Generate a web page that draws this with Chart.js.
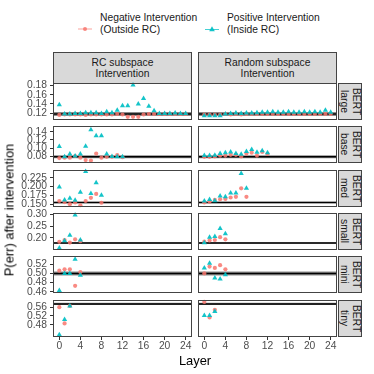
<!DOCTYPE html>
<html>
<head>
<meta charset="utf-8">
<script src="https://cdn.jsdelivr.net/npm/chart.js@4.4.1/dist/chart.umd.min.js"></script>
<style>
  body { margin: 0; background: #fff; font-family: "Liberation Sans", Arial, sans-serif; }
  #wrap { position: relative; width: 374px; height: 374px; overflow: hidden; }
  .abs { position: absolute; }
  canvas { position: absolute; }
  .strip {
    position: absolute; box-sizing: border-box;
    background: #d9d9d9; border: 1px solid #444; color: #1a1a1a;
    font-size: 10.3px; line-height: 11.5px; text-align: center;
    display: flex; align-items: center; justify-content: center;
  }
  .strip.side span { writing-mode: vertical-rl; }
  .legtext { font-size: 10.3px; line-height: 11.5px; color: #1a1a1a; }
  .title { font-size: 12.9px; color: #000; white-space: nowrap; }
</style>
</head>
<body>
<div id="wrap"></div>
<script>
// ===== dados =====
const modelNames = ['large', 'base', 'med', 'small', 'mini', 'tiny'];
const columnTitles = [['RC subspace', 'Intervention'], ['Random subspace', 'Intervention']];
const seriesNames = [['Negative Intervention', '(Outside RC)'], ['Positive Intervention', '(Inside RC)']];
const layerTicks = [0, 4, 8, 12, 16, 20, 24];

// P(err) por layer (indice = layer)
const largeRcNeg = [0.116, 0.117, 0.117, 0.117, 0.117, 0.116, 0.117, 0.117, 0.117, 0.117, 0.117, 0.118, 0.117,
                    0.112, 0.112, 0.112, 0.117, 0.118, 0.118, 0.118, 0.118, 0.118, 0.118, 0.118, 0.118];
const largeRcPos = [0.138, 0.118, 0.118, 0.119, 0.119, 0.121, 0.121, 0.121, 0.119, 0.123, 0.121, 0.126, 0.136,
                    0.136, 0.181, 0.140, 0.152, 0.135, 0.125, 0.119, 0.119, 0.119, 0.120, 0.119, 0.119];
const largeRandNeg = [0.117, 0.117, 0.117, 0.117, 0.118, 0.117, 0.118, 0.117, 0.118, 0.118, 0.118, 0.118, 0.118,
                      0.118, 0.118, 0.118, 0.118, 0.118, 0.118, 0.118, 0.118, 0.118, 0.118, 0.118, 0.118];
const largeRandPos = [0.114, 0.114, 0.114, 0.114, 0.118, 0.119, 0.120, 0.119, 0.120, 0.120, 0.121, 0.122, 0.122,
                      0.123, 0.122, 0.122, 0.123, 0.122, 0.122, 0.123, 0.122, 0.123, 0.122, 0.126, 0.122];

const baseRcNeg = [0.076, 0.077, 0.077, 0.081, 0.077, 0.071, 0.070, 0.087, 0.077, 0.079, 0.079, 0.083, 0.078];
const baseRcPos = [0.104, 0.079, 0.086, 0.081, 0.086, 0.105, 0.145, 0.130, 0.130, 0.086, 0.080, 0.079, 0.079];
const baseRandNeg = [0.079, 0.079, 0.080, 0.082, 0.082, 0.084, 0.084, 0.080, 0.087, 0.089, 0.082, 0.091, 0.086];
const baseRandPos = [0.082, 0.082, 0.083, 0.087, 0.089, 0.091, 0.087, 0.085, 0.092, 0.097, 0.090, 0.094, 0.089];

const medRcNeg = [0.159, 0.156, 0.150, 0.155, 0.147, 0.159, 0.168, 0.179, 0.154];
const medRcPos = [0.199, 0.162, 0.167, 0.161, 0.184, 0.243, 0.180, 0.211, 0.175];
const medRandNeg = [0.155, 0.157, 0.162, 0.164, 0.165, 0.169, 0.171, 0.195, 0.171];
const medRandPos = [0.159, 0.163, 0.160, 0.173, 0.171, 0.182, 0.182, 0.237, 0.195];

const smallRcNeg = [0.183, 0.191, 0.180, 0.194, 0.186];
const smallRcPos = [0.157, 0.188, 0.211, 0.297, 0.191];
const smallRandNeg = [0.184, 0.189, 0.191, 0.203, 0.194];
const smallRandPos = [0.179, 0.203, 0.206, 0.240, 0.217];

const miniRcNeg = [0.506, 0.509, 0.509, 0.473, 0.503];
const miniRcPos = [0.463, 0.500, 0.500, 0.531, 0.496];
const miniRandNeg = [0.500, 0.515, 0.512, 0.518, 0.509];
const miniRandPos = [0.512, 0.522, 0.490, 0.488, 0.497];

const tinyRcNeg = [0.560, 0.486, 0.566];
const tinyRcPos = [0.434, 0.504, 0.566];
const tinyRandNeg = [0.584, 0.513, 0.548];
const tinyRandPos = [0.522, 0.522, 0.540];

// linha de referencia (sem intervencao) e faixa
const baseline = [0.118, 0.0793, 0.1546, 0.1785, 0.500, 0.575];
const baselineBand = [0.0042, 0.0038, 0.002, 0.003, 0.0045, 0.005];

const yTicks = [
  [0.12, 0.14, 0.16, 0.18],
  [0.08, 0.10, 0.12, 0.14],
  [0.150, 0.175, 0.200, 0.225],
  [0.20, 0.25, 0.30],
  [0.46, 0.48, 0.50, 0.52],
  [0.48, 0.52, 0.56]
];
const yTickLabels = [
  ['0.12', '0.14', '0.16', '0.18'],
  ['0.08', '0.10', '0.12', '0.14'],
  ['0.150', '0.175', '0.200', '0.225'],
  ['0.20', '0.25', '0.30'],
  ['0.46', '0.48', '0.50', '0.52'],
  ['0.48', '0.52', '0.56']
];
const yLimits = [
  [0.105, 0.1855],
  [0.064, 0.154],
  [0.142, 0.247],
  [0.1485, 0.3056],
  [0.4574, 0.538],
  [0.424, 0.593]
];

const series = [
  [[largeRcNeg, largeRcPos], [largeRandNeg, largeRandPos]],
  [[baseRcNeg, baseRcPos], [baseRandNeg, baseRandPos]],
  [[medRcNeg, medRcPos], [medRandNeg, medRandPos]],
  [[smallRcNeg, smallRcPos], [smallRandNeg, smallRandPos]],
  [[miniRcNeg, miniRcPos], [miniRandNeg, miniRandPos]],
  [[tinyRcNeg, tinyRcPos], [tinyRandNeg, tinyRandPos]]
];

// ===== layout =====
const PX = [53, 198];
const PW = 139;
const PH = 37;
const M = 6; // margem do canvas para os rotulos nao cortarem
const rowTop = r => Math.round(83 + r * 43.3);
const xMin = -1.2, xMax = 25.2;

const RED = 'rgba(248,118,109,0.85)';
const TEAL = 'rgba(0,191,196,0.92)';

Chart.defaults.font.family = '"Liberation Sans", Arial, sans-serif';
Chart.defaults.font.size = 10.3;
Chart.defaults.color = '#4d4d4d';

const wrap = document.getElementById('wrap');

function el(cls, style, html) {
  const d = document.createElement('div');
  d.className = cls;
  Object.assign(d.style, style);
  if (html !== undefined) d.innerHTML = html;
  wrap.appendChild(d);
  return d;
}

const panelBox = {
  id: 'panelBox',
  afterDraw(chart) {
    const a = chart.chartArea;
    const ctx = chart.ctx;
    ctx.save();
    ctx.strokeStyle = '#444';
    ctx.lineWidth = 1;
    ctx.strokeRect(a.left + 0.5, a.top + 0.5, a.width - 1, a.height - 1);
    ctx.restore();
  }
};

function toPoints(arr) {
  return arr.map((v, i) => ({ x: i, y: v }));
}

function makePanel(r, c) {
  const left = c === 0;
  const bottom = r === modelNames.length - 1;
  const padL = left ? 53 : 1;
  const padB = bottom ? 0 : M;
  const w = padL + PW + 1;
  const h = M + PH + (bottom ? 15 : M);

  const cv = document.createElement('canvas');
  cv.width = w; cv.height = h;
  cv.style.width = w + 'px'; cv.style.height = h + 'px';
  cv.style.left = (PX[c] - padL) + 'px';
  cv.style.top = (rowTop(r) - M) + 'px';
  wrap.appendChild(cv);

  const b = baseline[r], band = baselineBand[r];
  const [neg, pos] = series[r][c];

  new Chart(cv, {
    type: 'scatter',
    data: {
      datasets: [
        {
          type: 'line',
          data: [{ x: xMin, y: b + band }, { x: xMax, y: b + band }],
          borderWidth: 0, pointRadius: 0,
          backgroundColor: 'rgba(0,0,0,0.45)',
          fill: '+1', order: 5
        },
        {
          type: 'line',
          data: [{ x: xMin, y: b - band }, { x: xMax, y: b - band }],
          borderWidth: 0, pointRadius: 0, fill: false, order: 5
        },
        {
          type: 'line',
          data: [{ x: xMin, y: b }, { x: xMax, y: b }],
          borderColor: '#000', borderWidth: 1.6, pointRadius: 0, fill: false, order: 4
        },
        {
          label: seriesNames[0].join(' '),
          data: toPoints(neg),
          pointStyle: 'circle', pointRadius: 2.1, pointHoverRadius: 2.1,
          backgroundColor: RED, borderWidth: 0, order: 2, clip: 4
        },
        {
          label: seriesNames[1].join(' '),
          data: toPoints(pos),
          pointStyle: 'triangle', pointRadius: 3, pointHoverRadius: 3,
          backgroundColor: TEAL, borderColor: TEAL, borderWidth: 0, order: 1, clip: 4
        }
      ]
    },
    options: {
      responsive: false,
      animation: false,
      events: [],
      layout: {
        autoPadding: false,
        padding: { top: M, right: 1, left: left ? 0 : 1, bottom: padB }
      },
      plugins: { legend: { display: false }, tooltip: { enabled: false } },
      scales: {
        x: {
          type: 'linear',
          min: xMin, max: xMax,
          display: bottom,
          afterBuildTicks: s => { s.ticks = layerTicks.map(v => ({ value: v })); },
          afterFit: s => {
            s.height = bottom ? 15 : 0;
            s.paddingLeft = 0; s.paddingRight = 0;
          },
          grid: { drawOnChartArea: false, drawTicks: true, tickLength: 3, tickColor: '#333' },
          border: { display: false },
          ticks: { autoSkip: false, maxRotation: 0, padding: 0, color: '#4d4d4d' }
        },
        y: {
          type: 'linear',
          min: yLimits[r][0], max: yLimits[r][1],
          display: left,
          afterBuildTicks: s => { s.ticks = yTicks[r].map(v => ({ value: v })); },
          afterFit: s => {
            s.width = left ? 53 : 0;
            s.paddingTop = 0; s.paddingBottom = 0;
          },
          grid: { drawOnChartArea: false, drawTicks: true, tickLength: 3, tickColor: '#333' },
          border: { display: false },
          ticks: {
            autoSkip: false, padding: 3, color: '#4d4d4d',
            callback: (v, i) => yTickLabels[r][i]
          }
        }
      }
    },
    plugins: [panelBox]
  });
}

// ===== strips =====
columnTitles.forEach((t, c) => {
  el('strip', { left: PX[c] + 'px', top: '52px', width: PW + 'px', height: '32px' },
    '<span>' + t.join('<br>') + '</span>');
});
modelNames.forEach((m, r) => {
  el('strip side', { left: '338px', top: rowTop(r) + 'px', width: '24px', height: PH + 'px' },
    '<span>BERT<br>' + m + '</span>');
});

// ===== paineis =====
modelNames.forEach((m, r) => {
  makePanel(r, 0);
  makePanel(r, 1);
});

// ===== legenda =====
const keyNeg = '<svg width="14" height="8"><line x1="0" y1="4" x2="14" y2="4" stroke="' + RED + '" stroke-width="0.8"/>' +
  '<circle cx="7" cy="4" r="2" fill="' + RED + '"/></svg>';
const keyPos = '<svg width="14" height="8"><line x1="0" y1="4.5" x2="14" y2="4.5" stroke="' + TEAL + '" stroke-width="0.8"/>' +
  '<polygon points="7,1.3 9.8,6.2 4.2,6.2" fill="' + TEAL + '"/></svg>';
el('abs', { left: '78px', top: '19px' }, keyNeg);
el('abs legtext', { left: '100px', top: '12px' }, seriesNames[0].join('<br>'));
el('abs', { left: '205px', top: '19px' }, keyPos);
el('abs legtext', { left: '227px', top: '12px' }, seriesNames[1].join('<br>'));

// ===== titulos dos eixos =====
el('abs title', { left: '195px', top: '353px', transform: 'translateX(-50%)' }, 'Layer');
el('abs title', { left: '9px', top: '210px', transform: 'translate(-50%, -50%) rotate(-90deg)' },
  'P(err) after intervention');
</script>
</body>
</html>
